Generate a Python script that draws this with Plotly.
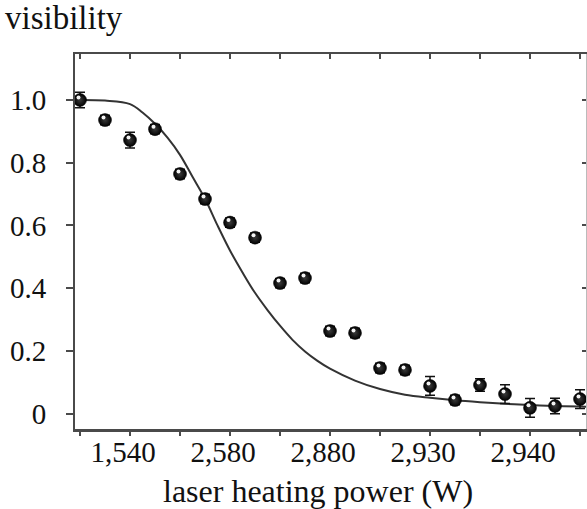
import plotly.graph_objects as go

# measured data (index position along the power axis, visibility)
point_idx = list(range(21))
visibility = [1.0, 0.936, 0.872, 0.907, 0.764, 0.684, 0.609, 0.561, 0.416, 0.432,
              0.263, 0.257, 0.145, 0.139, 0.088, 0.043, 0.091, 0.062, 0.018, 0.024, 0.046]
vis_err = [0.025, 0.015, 0.025, 0.015, 0.015, 0.015, 0.015, 0.015, 0.015, 0.015,
           0.015, 0.015, 0.015, 0.015, 0.03, 0.015, 0.02, 0.03, 0.03, 0.025, 0.03]

# fitted curve
fit_idx = [0, 1, 2, 2.5, 3, 3.5, 4, 4.5, 5, 5.5, 6, 6.5, 7, 7.5, 8, 8.5, 9, 9.5, 10,
           11, 12, 13, 14, 15, 16, 17, 18, 19, 20, 20.3]
fit_vis = [1.0, 0.998, 0.987, 0.96, 0.924, 0.88, 0.825, 0.755, 0.685, 0.60, 0.52, 0.45,
           0.385, 0.33, 0.28, 0.235, 0.198, 0.168, 0.143, 0.105, 0.078, 0.06, 0.05,
           0.042, 0.036, 0.031, 0.027, 0.024, 0.022, 0.021]

x_tick_pos = [0, 2, 4, 6, 8, 10, 12, 14, 16, 18, 20]
x_tick_text = ["", "1,540", "", "2,580", "", "2,880", "", "2,930", "", "2,940", ""]
y_tick_vals = [0, 0.2, 0.4, 0.6, 0.8, 1.0]
y_tick_text = ["0", "0.2", "0.4", "0.6", "0.8", "1.0"]

FONT = "Liberation Serif"
AX = "#4a4a4a"

xr = [-0.2, 20.24]
yr = [-0.0494, 1.1467]
# highlight axes: same scale, nudged ~1.5 px left and ~2.5 px up so the glint sits off-centre
PX_X = (xr[1] - xr[0]) / 511
PX_Y = (yr[1] - yr[0]) / 375
xr_h = [xr[0] + 1.5 * PX_X, xr[1] + 1.5 * PX_X]
yr_h = [yr[0] - 2.5 * PX_Y, yr[1] - 2.5 * PX_Y]

fig = go.Figure()
fig.add_trace(go.Scatter(x=fit_idx, y=fit_vis, mode="lines", line=dict(color="#333333", width=2, shape="spline"),
                         showlegend=False, hoverinfo="skip"))
fig.add_trace(go.Scatter(
    x=point_idx, y=visibility, mode="markers",
    error_y=dict(type="data", array=vis_err, color="#111111", thickness=1.5, width=5),
    marker=dict(size=13, color="#000000", line=dict(color="#000000", width=0.5),
                gradient=dict(type="radial", color="#3a3a3a")),
    showlegend=False))
# glint on the spheres
fig.add_trace(go.Scatter(x=point_idx, y=visibility, mode="markers", xaxis="x3", yaxis="y3",
                         marker=dict(size=4, color="#f2f2f2", line=dict(width=0)),
                         showlegend=False, hoverinfo="skip"))
# invisible trace to anchor mirror axes
fig.add_trace(go.Scatter(x=point_idx, y=visibility, xaxis="x2", yaxis="y2", mode="markers",
                         marker=dict(opacity=0), showlegend=False, hoverinfo="skip"))

fig.update_layout(
    width=587, height=509,
    margin=dict(l=75, r=1, t=54, b=80),
    paper_bgcolor="white", plot_bgcolor="white",
    font=dict(family=FONT, size=29, color="#111111"),
    xaxis=dict(range=xr, tickmode="array", tickvals=x_tick_pos, ticktext=x_tick_text,
               ticks="outside", ticklen=4, tickwidth=1.5, tickcolor=AX,
               showline=True, linecolor=AX, linewidth=2.5, showgrid=False, zeroline=False,
               ticklabelshift=-7, ticklabelstandoff=-9,
               tickfont=dict(family=FONT, size=29)),
    yaxis=dict(range=yr, tickmode="array", tickvals=y_tick_vals, ticktext=y_tick_text,
               ticks="outside", ticklen=7, tickwidth=1.5, tickcolor=AX,
               showline=True, linecolor=AX, linewidth=2, showgrid=False, zeroline=False,
               ticklabelstandoff=14,
               tickfont=dict(family=FONT, size=29)),
    xaxis2=dict(range=xr, overlaying="x", side="top", tickmode="array", tickvals=x_tick_pos,
                showticklabels=False, ticks="inside", ticklen=5, tickwidth=1.5, tickcolor=AX,
                showline=True, linecolor=AX, linewidth=2, showgrid=False, zeroline=False),
    yaxis2=dict(range=yr, overlaying="y", side="right", tickmode="array", tickvals=y_tick_vals,
                showticklabels=False, ticks="inside", ticklen=4, tickwidth=1.5, tickcolor=AX,
                showline=True, linecolor="#bbbbbb", linewidth=1, showgrid=False, zeroline=False),
    xaxis3=dict(range=xr_h, overlaying="x", visible=False, showgrid=False, zeroline=False),
    yaxis3=dict(range=yr_h, overlaying="y", visible=False, showgrid=False, zeroline=False),
    annotations=[
        dict(text="visibility", xref="paper", yref="paper", x=-72/511, y=1 + (54 - 18) / 375,
             xanchor="left", yanchor="middle", showarrow=False, font=dict(family=FONT, size=33)),
        dict(text="laser heating power (W)", xref="paper", yref="paper", x=(318 - 75) / 511,
             y=-(491 - 429) / 375, xanchor="center", yanchor="middle", showarrow=False,
             font=dict(family=FONT, size=32)),
    ],
)

fig.write_html("out.html", post_script="document.body.style.margin='0';",
               config={"displayModeBar": False})
